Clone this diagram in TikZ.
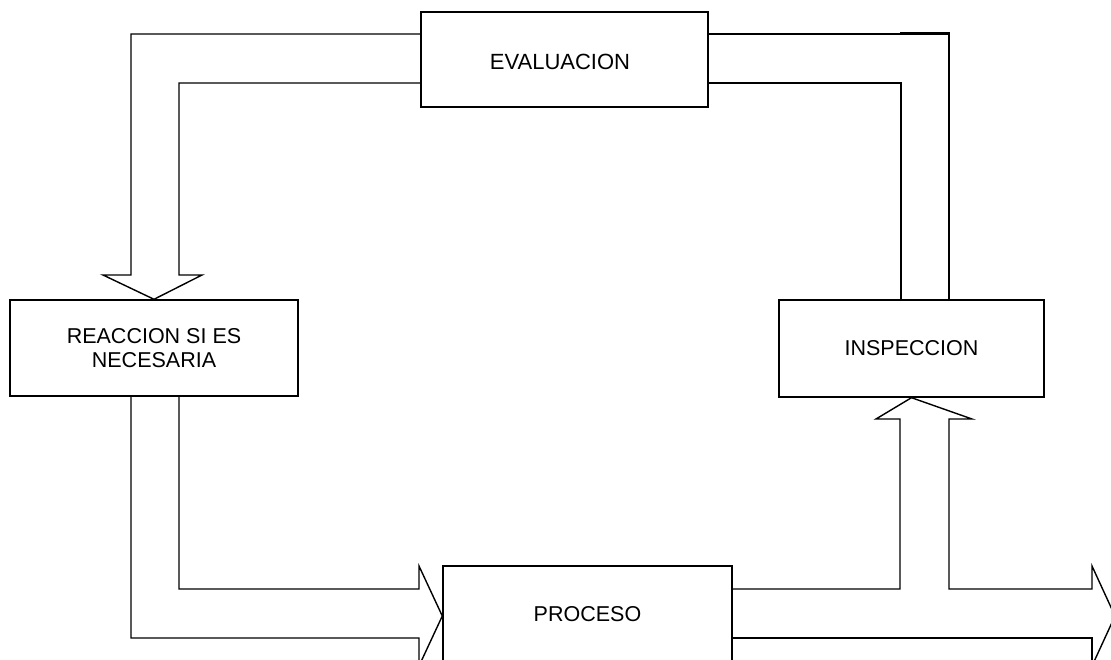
\documentclass[tikz,border=0pt]{standalone}
\usepackage{fontspec}
\setmainfont{Liberation Sans}
\begin{document}
\begin{tikzpicture}[x=1pt,y=-1pt,
  line join=miter,
  box/.style={draw,line width=1.4pt,rectangle,inner sep=0pt,align=center,
    font=\fontsize{21.5}{24}\selectfont},
  band/.style={draw,line width=1.4pt}]
\useasboundingbox (0,0) rectangle (1111,660);
\clip (0,0) rectangle (1111,660);

% stages of the control cycle
\node[box,minimum width=287pt,minimum height=95pt] (eval) at (564.5,59.5) {};
\node[font=\fontsize{22}{24}\selectfont] (evaltext) at ([shift={(-4.5,2.5)}]eval.center) {EVALUACION};
\node[box,minimum width=288pt,minimum height=96pt] (reac) at (154,348) {REACCION SI ES\\NECESARIA};
\node[box,minimum width=265pt,minimum height=97pt] (insp) at (911.5,348.5) {INSPECCION};
\node[box,minimum width=289pt,minimum height=97pt] (proc) at (587.5,614.5) {PROCESO};

% broad band: inspection -> evaluation
\draw[band] (949,0 |- insp.north) -- (949,34) -- (eval.east |- 0,34);
\draw[band] (901,0 |- insp.north) -- (901,83) -- (eval.east |- 0,83);
\draw[line width=3pt] (900,34) -- (950,34);

% broad band: evaluation -> reaction, ending in an arrow head
\draw[band] (eval.west |- 0,34) -- (131,34) -- (131,275) -- (103,275)
  -- (reac.north) -- (202,275) -- (179,275) -- (179,83) -- (eval.west |- 0,83);

% broad band: reaction -> process
\draw[band] (131,0 |- reac.south) -- (131,638) -- (419,638) -- (419,666)
  -- (proc.west |- 0,616) -- (419,566) -- (419,589) -- (179,589) -- (179,0 |- reac.south);

% broad band: process -> inspection and process -> output
\draw[band] (proc.east |- 0,589) -- (900,589) -- (900,419) -- (876,419)
  -- (insp.south) -- (972,419) -- (949,419) -- (949,589) -- (1092,589)
  -- (1092,566) -- (1115,616) -- (1092,666);
\draw[band] (1092,666) -- (1092,638) -- (proc.east |- 0,638);
\end{tikzpicture}
\end{document}
